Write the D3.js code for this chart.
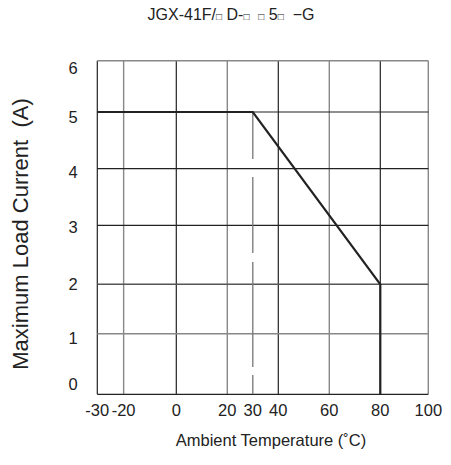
<!DOCTYPE html>
<html>
<head>
<meta charset="utf-8">
<script src="https://cdn.jsdelivr.net/npm/d3@7"></script>
<style>
  body { margin: 0; background: #fff; }
  text { font-family: "Liberation Sans", Arial, sans-serif; fill: #222; }
</style>
</head>
<body>
<script>
// derating curve: temperature (C) vs max load current (A)
var temps = [-30, 30, 80, 80];
var currents = [5, 5, 2, 0];

var xTicks = [-30, -20, 0, 20, 30, 40, 60, 80, 100];
var xGrid = [-30, -20, 0, 20, 40, 60, 80, 100];
var xGridDark = [-30, 0, 40, 80];
var yTicks = [0, 1, 2, 3, 4, 5, 6];
var yGridDark = [0, 3, 4, 5];
var dashAt = 30;

var title = ["JGX-41F/", "□", " D-", "□", "  ", "□", " 5", "□", "  −G"];
var xTitle = "Ambient Temperature (˚C)";
var yTitle = "Maximum Load Current  (A)";

var width = 451, height = 465;

var svg = d3.select("body").append("svg").attr("width", width).attr("height", height);

// the source grid is hand drawn, so the scales are piecewise
var x = d3.scaleLinear().domain([-30, 0, 80, 100]).range([97.3, 176.3, 380.3, 428.3]);
var y = d3.scaleLinear().domain([0, 1, 2, 3, 4, 5, 6]).range([394.3, 333.7, 284.3, 225.3, 168.7, 112, 60.7]);
var yLab = d3.scaleLinear().domain([0, 1, 2, 3, 4, 5, 6]).range([384, 338, 284, 227, 172, 117, 68]);

var grid = svg.append("g");
grid.selectAll("line.v")
  .data(xGrid)
  .enter().append("line")
    .attr("x1", function(d) { return x(d); })
    .attr("x2", function(d) { return x(d); })
    .attr("y1", y(6))
    .attr("y2", y(0))
    .attr("stroke", function(d) { return xGridDark.indexOf(d) >= 0 ? "#222" : "#888"; })
    .attr("stroke-width", function(d) { return xGridDark.indexOf(d) >= 0 ? 1.2 : 1.4; });

grid.selectAll("line.h")
  .data(yTicks)
  .enter().append("line")
    .attr("x1", x(-30))
    .attr("x2", x(100))
    .attr("y1", function(d) { return y(d); })
    .attr("y2", function(d) { return y(d); })
    .attr("stroke", function(d) { return yGridDark.indexOf(d) >= 0 ? "#222" : (d == 2 ? "#555" : "#888"); })
    .attr("stroke-width", function(d) { return yGridDark.indexOf(d) >= 0 ? 1.2 : 1.4; });

// dashed marker at 30C
svg.append("line")
  .attr("x1", x(dashAt)).attr("x2", x(dashAt))
  .attr("y1", y(5)).attr("y2", y(0))
  .attr("stroke", "#777")
  .attr("stroke-width", 1.3)
  .attr("stroke-dasharray", "47,18,76,9,105,8,19");

var line = d3.line()
  .x(function(d, i) { return x(temps[i]); })
  .y(function(d, i) { return y(d); });

svg.append("path")
  .datum(currents)
  .attr("d", line)
  .attr("fill", "none")
  .attr("stroke", "#222")
  .attr("stroke-width", 2.2)
  .attr("stroke-linejoin", "miter");

// tick labels
svg.selectAll("text.xt")
  .data(xTicks)
  .enter().append("text")
    .attr("x", function(d) { return x(d); })
    .attr("y", 416)
    .attr("text-anchor", "middle")
    .attr("font-size", 16.5)
    .text(function(d) { return d; });

svg.selectAll("text.yt")
  .data(yTicks)
  .enter().append("text")
    .attr("x", 73)
    .attr("y", function(d) { return yLab(d) + 6; })
    .attr("text-anchor", "middle")
    .attr("font-size", 16.5)
    .text(function(d) { return d; });

svg.append("text")
  .attr("x", 271)
  .attr("y", 446)
  .attr("text-anchor", "middle")
  .attr("font-size", 16.5)
  .text(xTitle);

svg.append("text")
  .attr("transform", "translate(28,234) rotate(-90)")
  .attr("text-anchor", "middle")
  .attr("font-size", 22)
  .attr("xml:space", "preserve")
  .text(yTitle);

var t = svg.append("text")
  .attr("x", 231)
  .attr("y", 20)
  .attr("text-anchor", "middle")
  .attr("font-size", 16)
  .attr("xml:space", "preserve");
t.selectAll("tspan")
  .data(title)
  .enter().append("tspan")
    .attr("font-size", function(d) { return d == "□" ? 10 : 16; })
    .text(function(d) { return d; });
</script>
</body>
</html>
